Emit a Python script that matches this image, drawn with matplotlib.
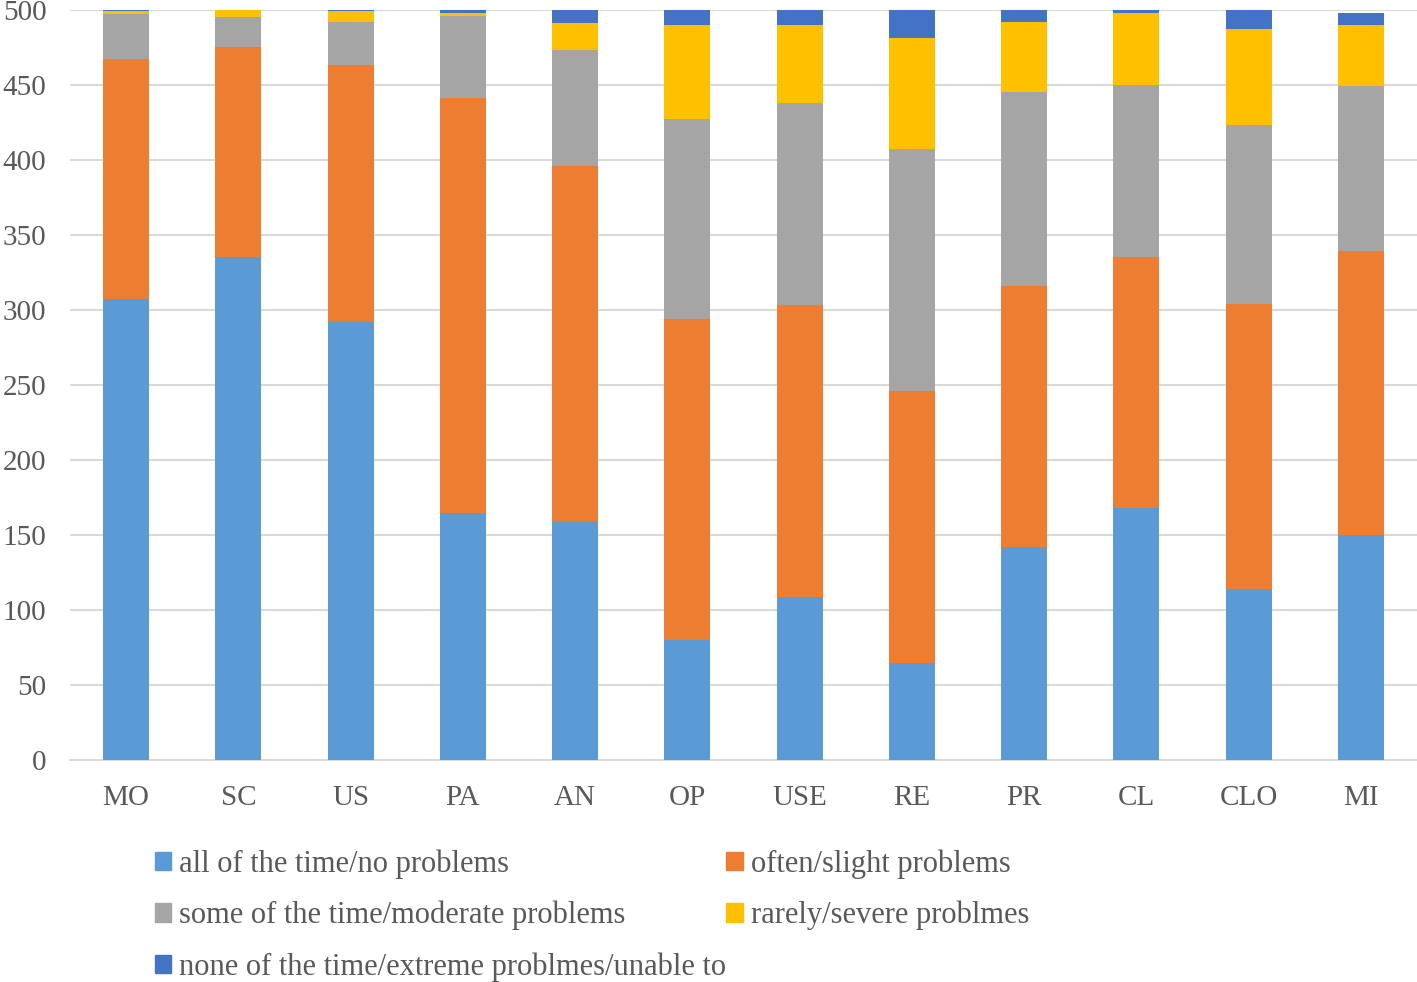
import numpy as np
import matplotlib.pyplot as plt
from matplotlib.patches import Patch

# ==================================================
# DATA
# ==================================================
categories = ["MO", "SC", "US", "PA", "AN", "OP", "USE", "RE", "PR", "CL", "CLO", "MI"]

no_problems = [307, 335, 292, 165, 159, 80, 109, 65, 142, 168, 114, 150]
slight = [160, 140, 171, 276, 237, 214, 194, 181, 174, 167, 190, 189]
moderate = [30, 20, 29, 55, 77, 133, 135, 161, 129, 115, 119, 110]
severe = [2, 5, 7, 2, 18, 63, 52, 74, 47, 48, 64, 41]
extreme = [1, 0, 1, 2, 9, 10, 10, 19, 8, 2, 13, 8]

series_labels = [
    "all of the time/no problems",
    "often/slight problems",
    "some of the time/moderate problems",
    "rarely/severe problmes",
    "none of the time/extreme problmes/unable to",
]
colors = ["#5B9BD5", "#ED7D31", "#A5A5A5", "#FFC000", "#4472C4"]

# ==================================================
# PLOT
# ==================================================
plt.rcParams['font.family'] = ['Liberation Serif', 'DejaVu Serif']
TEXT = "#595959"

fig = plt.figure(figsize=(14.17, 9.82), dpi=100)
ax = fig.add_axes([70 / 1417, 1 - 760 / 982, 1347 / 1417, 750 / 982])

x = np.arange(len(categories))
bottom = np.zeros(len(categories))
for vals, col, lab in zip([no_problems, slight, moderate, severe, extreme], colors, series_labels):
    ax.bar(x, vals, width=0.41, bottom=bottom, color=col, label=lab, zorder=3)
    bottom += np.array(vals)

ax.set_xlim(-0.5, len(categories) - 0.5)
ax.set_ylim(0, 500)
ax.set_yticks(np.arange(0, 501, 50))
ax.set_xticks(x)
ax.set_xticklabels(categories)
ax.grid(axis='y', color="#D9D9D9", linewidth=1.5, zorder=0)
ax.tick_params(axis='both', length=0, labelsize=21, colors=TEXT)
ax.tick_params(axis='x', pad=18)
ax.tick_params(axis='y', pad=17)
for s in ["top", "right", "left"]:
    ax.spines[s].set_visible(False)
ax.spines["bottom"].set_color("#D9D9D9")
ax.spines["bottom"].set_linewidth(1.5)

# legend, row-major order over two columns
handles = [Patch(color=c) for c in colors]
order = [0, 2, 4, 1, 3]
fig.legend([handles[i] for i in order], [series_labels[i] for i in order],
           ncol=2, loc="upper left", bbox_to_anchor=(127 / 1417, 1 - 822 / 982),
           frameon=False, fontsize=22, labelcolor=TEXT,
           handlelength=0.55, handleheight=0.55, handletextpad=0.25,
           columnspacing=0.0, labelspacing=0.72)

plt.savefig("out.png", dpi=100)
plt.close()
